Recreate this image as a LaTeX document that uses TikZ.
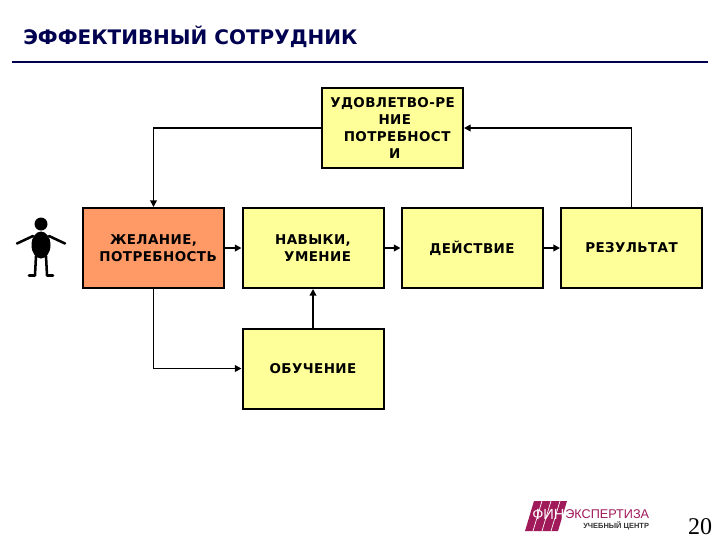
\documentclass[tikz,border=0pt]{standalone}
\usepackage{fontspec}
\setmainfont{DejaVu Sans}[BoldFont={DejaVu Sans Bold}]
\newfontfamily\serifnum{Liberation Serif}
\newfontfamily\logofont{Liberation Sans}
\newfontfamily\boxfont[LetterSpace=3]{DejaVu Sans Bold}
\usetikzlibrary{arrows.meta,calc}
\definecolor{navy}{HTML}{000050}
\definecolor{lightyel}{HTML}{FFFF99}
\definecolor{peach}{HTML}{FF9966}
\definecolor{brand}{HTML}{A01A5A}
\tikzset{
 box/.style={draw=black,line width=1.5pt,fill=lightyel,minimum width=105.75pt,minimum height=60pt,inner sep=0pt,align=center,font=\boxfont\fontsize{10.1pt}{12.75pt}\selectfont},
 conn/.style={line width=1.3pt,-{Triangle[length=5pt,width=5pt]}},
 limb/.style={line width=1.9pt,line cap=round}
}
\newcommand{\lsp}{\hphantom{i}}
\begin{document}
\begin{tikzpicture}[x=0.75pt,y=-0.75pt]
\useasboundingbox (0,0) rectangle (720,540);
\fill[white] (0,0) rectangle (720,540);
\node[anchor=west,text=navy,font=\bfseries\fontsize{15pt}{18pt}\selectfont,inner sep=0pt] (title) at (23,37) {ЭФФЕКТИВНЫЙ СОТРУДНИК};
\coordinate (ruleL) at (12,61.5);
\coordinate (ruleR) at (708,61.5);
\draw[navy,line width=1.5pt] (ruleL) -- (ruleR);

\node[box] (sat) at (392.5,128) {УДОВЛЕТВО-РЕ\\\lsp НИЕ\\\lsp\lsp ПОТРЕБНОСТ\\\lsp И};
\node[box,fill=peach] (want) at (153.5,248) {ЖЕЛАНИЕ,\\\lsp\lsp ПОТРЕБНОСТЬ};
\node[box] (skill) at (313,248) {НАВЫКИ,\hspace{1.5pt}\\\lsp\lsp УМЕНИЕ};
\node[box] (act) at (472,248) {ДЕЙСТВИЕ};
\node[box] (res) at (631.5,248) {РЕЗУЛЬТАТ};
\node[box] (learn) at (313,368.5) {ОБУЧЕНИЕ};

\draw[conn] (sat.west) -| (want.north);
\draw[conn] (res.north) |- (sat.east);
\draw[conn] (want.east) -- (skill.west);
\draw[conn] (skill.east) -- (act.west);
\draw[conn] (act.east) -- (res.west);
\draw[conn] (learn.north) -- (skill.south);
\draw[conn] (want.south) |- (learn.west);

% person
\fill[black] (41,224) circle (6.5);
\fill[black] (41,245) ellipse (9.5 and 13.5);
\draw[limb] (33,236) -- (17,243.5);
\draw[limb] (49,236) -- (65,243.5);
\draw[limb] (36,256) -- (35,275) (29,275.5) -- (35,275.5);
\draw[limb] (46,256) -- (47,275) (47,275.5) -- (53,275.5);

% logo
\fill[brand] (534,501) -- (567,501) -- (558,531) -- (525,531) -- cycle;
\foreach \i in {0,1,2}{
  \draw[white,line width=0.5pt] ({533+\i*9},531) -- ({542+\i*9},501);
}
\node[anchor=west,inner sep=0pt,font=\logofont\fontsize{11pt}{12pt}\selectfont,text=white] (logoA) at (532,514) {ФИН};
\node[anchor=west,inner sep=0pt,font=\logofont\fontsize{9.5pt}{12pt}\selectfont,text=brand] (logoB) at (565,514) {ЭКСПЕРТИЗА};
\node[anchor=west,inner sep=0pt,font=\logofont\bfseries\fontsize{5.6pt}{6pt}\selectfont,text=black!80] (logoC) at (583,526) {УЧЕБНЫЙ ЦЕНТР};
\node[anchor=center,inner sep=0pt,font=\serifnum\fontsize{18pt}{20pt}\selectfont] (page) at (700,527) {20};
\end{tikzpicture}
\end{document}
